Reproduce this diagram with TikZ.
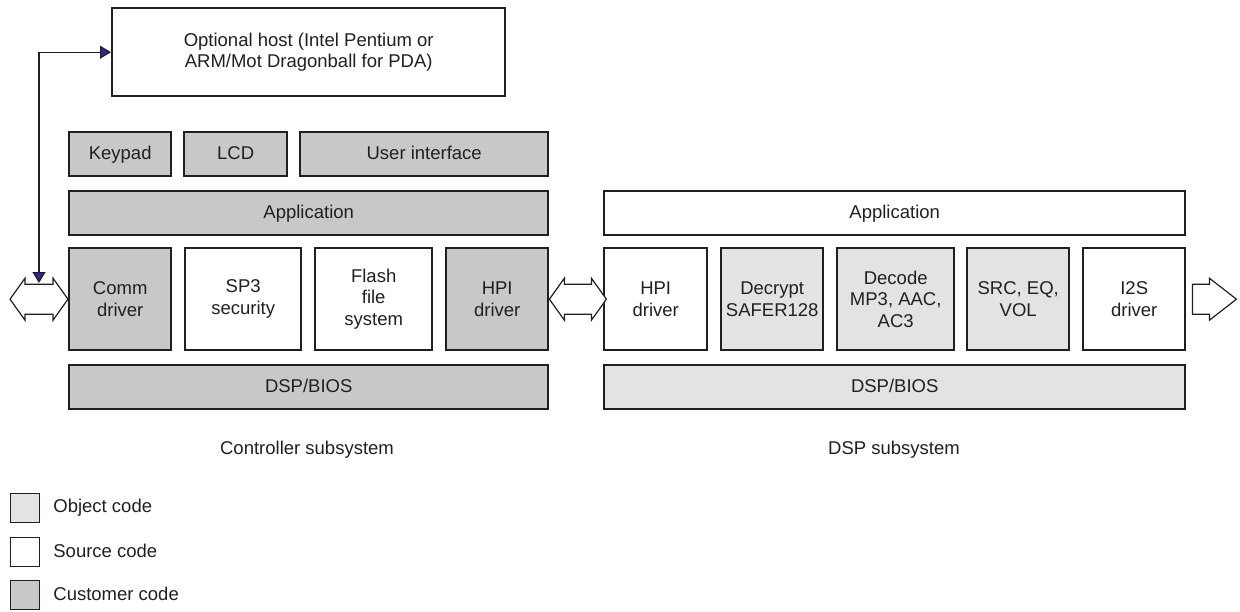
\documentclass[tikz,border=0pt]{standalone}
\usepackage{fontspec}
\setmainfont{Liberation Sans}
\usetikzlibrary{arrows.meta}
\definecolor{custgray}{RGB}{199,200,202}
\definecolor{objgray}{RGB}{226,227,229}
\definecolor{inkgray}{RGB}{35,31,32}
\definecolor{tipblue}{RGB}{40,40,150}
\tikzset{
  blk/.style={draw=inkgray, line width=1.2pt, align=center, inner sep=0pt,
    anchor=north west, text=inkgray, font=\fontsize{9.25}{10.8}\selectfont},
  cust/.style={blk, fill=custgray},
  obj/.style={blk, fill=objgray},
  src/.style={blk, fill=white},
  oneline/.style={text height=6.7pt, text depth=1.9pt},
  flow/.style={draw=inkgray, line width=0.6pt, fill=white},
  link/.style={draw=inkgray, line width=0.6pt,
    {Triangle[length=5.5pt,width=6.5pt,fill=tipblue]}-{Triangle[length=5.5pt,width=6.5pt,fill=tipblue]}},
  lbl/.style={text=inkgray, inner sep=0pt, font=\fontsize{9.25}{10.8}\selectfont},
}

\begin{document}
\begin{tikzpicture}[x=0.5pt,y=-0.5pt]
\useasboundingbox (0,0) rectangle (1240,611);
% host
\node[src, minimum width=196.5pt, minimum height=44pt] (host) at (111,7) {Optional host (Intel Pentium or\\ARM/Mot Dragonball for PDA)};
% controller subsystem
\node[cust, oneline, minimum width=51pt, minimum height=22pt] (keypad) at (68,131) {Keypad};
\node[cust, oneline, minimum width=51.5pt, minimum height=22pt] (lcd) at (183,131) {LCD};
\node[cust, oneline, minimum width=124pt, minimum height=22pt] (ui) at (299,131) {User interface};
\node[cust, oneline, minimum width=239.5pt, minimum height=22pt] (appC) at (68,190) {Application};
\node[cust, minimum width=51pt, minimum height=51pt] (comm) at (68,247) {Comm\\driver};
\node[src, minimum width=58pt, minimum height=51pt] (sp3) at (184,247) {SP3\\security};
\node[src, minimum width=58.5pt, minimum height=51pt] (flash) at (314,247) {Flash\\file\\system};
\node[cust, minimum width=51pt, minimum height=51pt] (hpiC) at (445,247) {HPI\\driver};
\node[cust, oneline, minimum width=239.5pt, minimum height=22pt] (biosC) at (68,364) {DSP/BIOS};
% DSP subsystem
\node[src, oneline, minimum width=290.5pt, minimum height=22pt] (appD) at (603,190) {Application};
\node[src, minimum width=51.5pt, minimum height=51pt] (hpiD) at (603,247) {HPI\\driver};
\node[obj, minimum width=51pt, minimum height=51pt] (decrypt) at (720,247) {Decrypt\\SAFER128};
\node[obj, minimum width=58.5pt, minimum height=51pt] (decode) at (836,247) {Decode\\MP3, AAC,\\AC3};
\node[obj, minimum width=51pt, minimum height=51pt] (src) at (966,247) {SRC, EQ,\\VOL};
\node[src, minimum width=51pt, minimum height=51pt] (i2s) at (1082,247) {I2S\\driver};
\node[obj, oneline, minimum width=290.5pt, minimum height=22pt] (biosD) at (603,364) {DSP/BIOS};
% flows
\draw[flow] (comm.west) -- ++(-15,-21) -- ++(0,6) -- ++(-28,0) -- ++(0,-6) -- ++(-15,21)
  -- ++(15,21) -- ++(0,-6) -- ++(28,0) -- ++(0,6) -- cycle;
\draw[flow] (hpiC.east) -- ++(15,-21) -- ++(0,6) -- ++(27,0) -- ++(0,-6) -- ++(15,21)
  -- ++(-15,21) -- ++(0,-6) -- ++(-27,0) -- ++(0,6) -- cycle;
\draw[flow] (i2s.east) ++(6,-15) -- ++(17,0) -- ++(0,-6) -- ++(27,21) -- ++(-27,21)
  -- ++(0,-6) -- ++(-17,0) -- cycle;
\coordinate (linkEnd) at (39,283);
\draw[link] (host.west) -| (linkEnd);
% captions
\node[lbl] (ctrlLbl) at (307,450) {Controller subsystem};
\node[lbl] (dspLbl) at (894,450) {DSP subsystem};
% legend
\node[obj, minimum width=14.5pt, minimum height=14.5pt, line width=0.6pt] (keyObj) at (10,493) {};
\node[src, minimum width=14.5pt, minimum height=14.5pt, line width=0.6pt] (keySrc) at (10,537) {};
\node[cust, minimum width=14.5pt, minimum height=14.5pt, line width=0.6pt] (keyCust) at (10,580) {};
\node[lbl, anchor=west] (txtObj) at (53,508) {Object code};
\node[lbl, anchor=west] (txtSrc) at (53,551) {Source code};
\node[lbl, anchor=west] (txtCust) at (53,594) {Customer code};
\end{tikzpicture}
\end{document}
